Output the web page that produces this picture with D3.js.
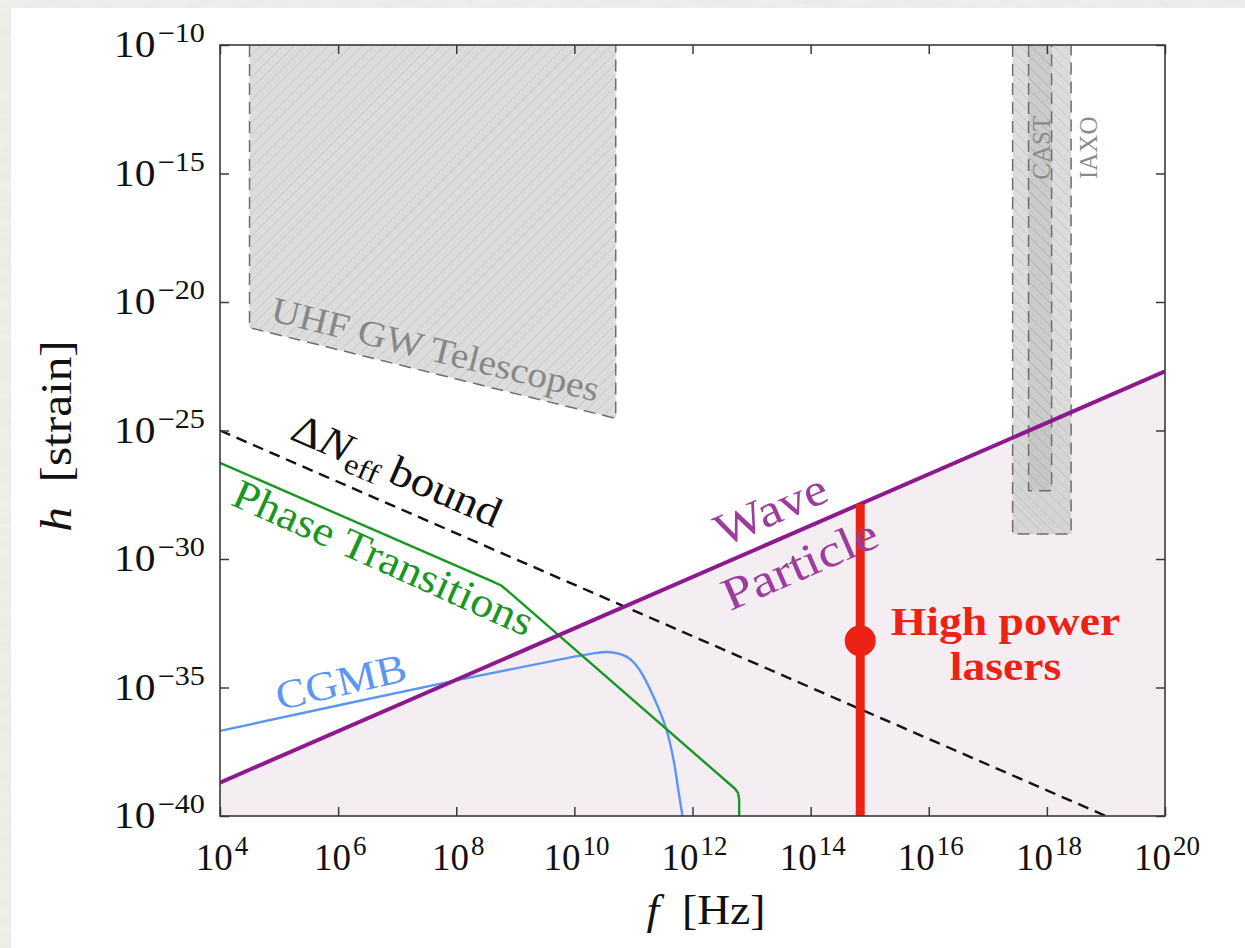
<!DOCTYPE html>
<html><head><meta charset="utf-8">
<script src="https://cdn.jsdelivr.net/npm/d3@7"></script>
<style>
html,body{margin:0;padding:0;background:#efeeeb;}
svg{display:block;}
text{font-family:"Liberation Serif","Times New Roman",serif;}
</style></head><body>
<svg id="chart" width="1245" height="948"></svg>
<script>
// All values are base-10 exponents: [log10 f (Hz), log10 h (strain)]
const xTickExps = [4, 6, 8, 10, 12, 14, 16, 18, 20];
const yTickExps = [-10, -15, -20, -25, -30, -35, -40];

const neffBound = [[4, -25], [19, -40]];
const waveParticle = [[4, -38.7], [20, -22.7]];
const phaseTransitions = [[4, -26.26], [8.6, -30.86], [8.76, -31.03], [8.92, -31.34],
  [12.72, -38.94], [12.77, -39.1], [12.79, -39.35], [12.79, -40]];
const cgmb = [[4, -36.69], [8, -34.72], [10, -33.80], [10.3, -33.68], [10.55, -33.62],
  [10.75, -33.68], [10.92, -33.85], [11.1, -34.3], [11.34, -35.36],
  [11.56, -36.65], [11.68, -37.82], [11.76, -38.99], [11.83, -40]];
const uhfTelescopes = [[4.5, -10], [4.5, -21.0], [10.7, -24.53], [10.7, -10]];
const iaxo = [[17.42, -10], [17.42, -29.03], [18.41, -29.03], [18.41, -10]];
const cast = [[17.69, -10], [17.69, -27.34], [18.08, -27.34], [18.08, -10]];
const laserFreq = 14.84;
const laserRange = [-40, -27.86];
const laserPoint = -33.18;

const W = 1245, H = 948;
const M = {left: 220, right: 1165, top: 45, bottom: 816};
const svg = d3.select("#chart");

const x = d3.scaleLog().domain([1e4, 1e20]).range([M.left, M.right]);
const y = d3.scaleLog().domain([1e-40, 1e-10]).range([M.bottom, M.top]);
const P = ([a, b]) => [x(10 ** a), y(10 ** b)];
const slopeAngle = s => Math.atan2(y(10 ** (-30 + s)) - y(1e-30), x(1e11) - x(1e10)) * 180 / Math.PI;

const defs = svg.append("defs");

// paper texture around the card
const tex = defs.append("filter").attr("id", "paper").attr("x", 0).attr("y", 0).attr("width", 1).attr("height", 1);
tex.append("feTurbulence").attr("type", "fractalNoise").attr("baseFrequency", "0.05 0.12").attr("numOctaves", 3).attr("seed", 4);
tex.append("feColorMatrix").attr("type", "matrix")
  .attr("values", "0 0 0 0 0.55  0 0 0 0 0.54  0 0 0 0 0.52  0 0 0 0.18 0");
svg.append("rect").attr("width", W).attr("height", H).attr("fill", "#f1f0ed");
svg.append("rect").attr("width", W).attr("height", H).attr("filter", "url(#paper)");
svg.append("rect").attr("x", 11).attr("y", 8).attr("width", W - 11).attr("height", H - 8).attr("fill", "#ffffff");

defs.append("clipPath").attr("id", "plotClip").append("rect")
  .attr("x", M.left).attr("y", M.top).attr("width", M.right - M.left).attr("height", M.bottom - M.top);

function hatch(id, angle) {
  const p = defs.append("pattern").attr("id", id).attr("patternUnits", "userSpaceOnUse")
    .attr("width", 8).attr("height", 8).attr("patternTransform", `rotate(${angle})`);
  p.append("line").attr("x1", 0).attr("y1", -1).attr("x2", 0).attr("y2", 9)
    .attr("stroke", "rgba(140,140,140,0.4)").attr("stroke-width", 1);
}
hatch("hatchUp", 45);
hatch("hatchDown", -45);

const plot = svg.append("g").attr("clip-path", "url(#plotClip)");
const line = d3.line().x(d => P(d)[0]).y(d => P(d)[1]);

// particle region below the wave/particle boundary
plot.append("path")
  .attr("d", line([...waveParticle, [20, -40], [4, -40]]) + "Z")
  .attr("fill", "#f4eef3");

// experimental regions
function region(pts, pattern) {
  plot.append("path").attr("d", line(pts) + "Z").attr("fill", "rgba(185,185,185,0.5)");
  plot.append("path").attr("d", line(pts) + "Z").attr("fill", `url(#${pattern})`);
  plot.append("path").attr("d", line(pts)).attr("fill", "none")
    .attr("stroke", "#6e6e6e").attr("stroke-width", 1.5).attr("stroke-dasharray", "12,7");
}
region(uhfTelescopes, "hatchUp");
region(iaxo, "hatchDown");
region(cast, "hatchDown");

// curves
plot.append("path").attr("d", line(neffBound)).attr("fill", "none")
  .attr("stroke", "#111").attr("stroke-width", 2.4).attr("stroke-dasharray", "11,7");
plot.append("path").attr("d", line.curve(d3.curveCatmullRom.alpha(0.5))(cgmb)).attr("fill", "none")
  .attr("stroke", "#5b96f2").attr("stroke-width", 2.4);
line.curve(d3.curveLinear);
plot.append("path").attr("d", line(phaseTransitions)).attr("fill", "none")
  .attr("stroke", "#1a9624").attr("stroke-width", 2.4).attr("stroke-linejoin", "round");
plot.append("path").attr("d", line(waveParticle)).attr("fill", "none")
  .attr("stroke", "#8c1a8c").attr("stroke-width", 4);

// high power lasers
const red = "#ec2214";
plot.append("line")
  .attr("x1", x(10 ** laserFreq)).attr("x2", x(10 ** laserFreq))
  .attr("y1", y(10 ** laserRange[0])).attr("y2", y(10 ** laserRange[1]))
  .attr("stroke", red).attr("stroke-width", 9);
plot.append("circle").attr("cx", x(10 ** laserFreq)).attr("cy", y(10 ** laserPoint))
  .attr("r", 15.5).attr("fill", red);

// annotations (stretch widens the glyphs horizontally)
function note(at, rot, size, color, stretch, build) {
  const [px, py] = P(at);
  const t = svg.append("text").attr("transform", `translate(${px},${py}) rotate(${rot}) scale(${stretch},1)`)
    .attr("text-anchor", "middle").attr("font-size", size).attr("fill", color);
  build(t);
  return t;
}
note([7.6, -22.3], slopeAngle(-0.57), 36, "#878787", 1.1, t => t.text("UHF GW Telescopes"));
note([6.9, -27.05], slopeAngle(-1), 42, "#111", 1.12, t => {
  t.append("tspan").text("Δ");
  t.append("tspan").attr("font-style", "italic").text("N");
  t.append("tspan").attr("font-size", 29).attr("dy", 8).text("eff");
  t.append("tspan").attr("dy", -8).text("\u2009bound");
});
note([6.67, -30.45], slopeAngle(-1.03), 42, "#1a9624", 1.1, t => t.text("Phase Transitions"));
note([6.1, -35.3], slopeAngle(0.53), 41, "#5b96f2", 1.1, t => t.text("CGMB"));
note([13.43, -28.62], slopeAngle(1), 46, "#9c3c9c", 1.14, t => t.text("Wave"));
note([13.92, -30.75], slopeAngle(1), 46, "#9c3c9c", 1.18, t => t.text("Particle"));
note([18.05, -14.0], -90, 25, "#8a8a8a", 1, t => t.text("CAST"));
note([18.85, -14.0], -90, 25, "#8a8a8a", 1, t => t.text("IAXO"));
note([17.3, -32.95], 0, 39, red, 1.17, t => t.attr("font-weight", "bold").text("High power"));
note([17.3, -34.72], 0, 39, red, 1.17, t => t.attr("font-weight", "bold").text("lasers"));

// axes: inward ticks on all four sides
const tickStyle = g => {
  g.select(".domain").remove();
  g.selectAll(".tick line").attr("stroke", "#3a3a3a").attr("stroke-width", 1.5);
  g.selectAll(".tick text").remove();
};
const xTicks = xTickExps.map(e => 10 ** e);
const yTicks = yTickExps.map(e => 10 ** e);
svg.append("g").attr("transform", `translate(0,${M.bottom})`)
  .call(d3.axisBottom(x).tickValues(xTicks).tickSizeInner(-9).tickSizeOuter(0)).call(tickStyle);
svg.append("g").attr("transform", `translate(0,${M.top})`)
  .call(d3.axisTop(x).tickValues(xTicks).tickSizeInner(-9).tickSizeOuter(0)).call(tickStyle);
svg.append("g").attr("transform", `translate(${M.left},0)`)
  .call(d3.axisLeft(y).tickValues(yTicks).tickSizeInner(-9).tickSizeOuter(0)).call(tickStyle);
svg.append("g").attr("transform", `translate(${M.right},0)`)
  .call(d3.axisRight(y).tickValues(yTicks).tickSizeInner(-9).tickSizeOuter(0)).call(tickStyle);

svg.append("rect").attr("x", M.left).attr("y", M.top)
  .attr("width", M.right - M.left).attr("height", M.bottom - M.top)
  .attr("fill", "none").attr("stroke", "#3a3a3a").attr("stroke-width", 1.6);

// tick labels as powers of ten
const minus = n => (n < 0 ? "\u2212" + (-n) : String(n));
function power(t, e) {
  t.append("tspan").text("10");
  t.append("tspan").attr("font-size", 27).attr("dx", 2).attr("dy", -15).text(minus(e));
}
xTickExps.forEach(e => {
  const t = svg.append("text").attr("x", x(10 ** e) + 2).attr("y", M.bottom + 54)
    .attr("text-anchor", "middle").attr("font-size", 37).attr("fill", "#111");
  power(t, e);
});
yTickExps.forEach(e => {
  const t = svg.append("text")
    .attr("transform", `translate(205,${y(10 ** e) + 12}) scale(1.12,1)`)
    .attr("text-anchor", "end").attr("font-size", 37).attr("fill", "#111");
  power(t, e);
});

// axis titles
const xt = svg.append("text").attr("transform", "translate(706,924) scale(1.06,1)")
  .attr("text-anchor", "middle").attr("font-size", 43).attr("fill", "#111");
xt.append("tspan").attr("font-style", "italic").text("f");
xt.append("tspan").text("\u2002[Hz]");
const yt = svg.append("text").attr("transform", "translate(71,436) rotate(-90) scale(1.12,1)")
  .attr("text-anchor", "middle").attr("font-size", 44).attr("fill", "#111");
yt.append("tspan").attr("font-style", "italic").text("h");
yt.append("tspan").text("\u2002[strain]");
</script>
</body></html>
